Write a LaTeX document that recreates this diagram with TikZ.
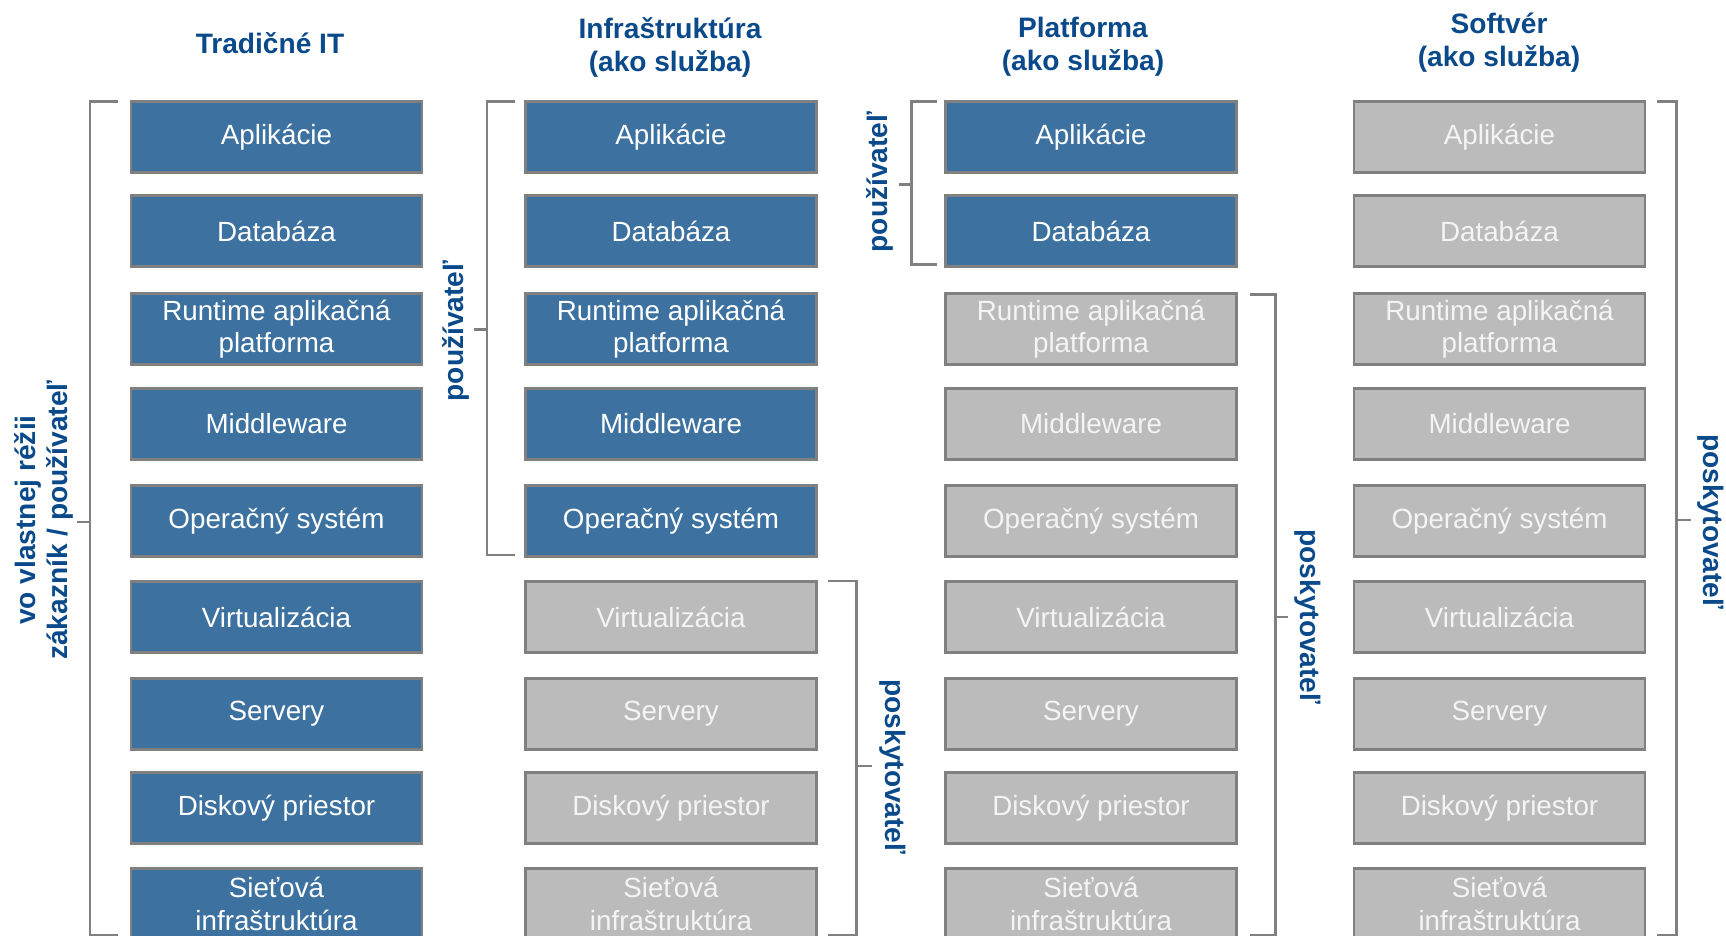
\documentclass[tikz,border=0pt]{standalone}
\usepackage{fontspec}
\setmainfont{Liberation Sans}

\definecolor{ownblue}{HTML}{3D72A0}
\definecolor{titleblue}{HTML}{0B4A8A}
\definecolor{edgegray}{HTML}{808080}
\definecolor{svcgray}{HTML}{BBBBBB}
\definecolor{svctext}{HTML}{F4F4F4}

\tikzset{
	own/.style={draw=edgegray, line width=0.7pt, fill=ownblue, text=white, minimum width=2.91cm, minimum height=0.71cm, inner sep=0pt, align=center, font=\fontsize{7.9}{9.2}\selectfont},
	svc/.style={own, fill=svcgray, text=svctext},
	head/.style={text=titleblue, align=center, font=\fontsize{8}{9.4}\selectfont\bfseries},
	who/.style={text=titleblue, align=center, font=\fontsize{8}{9.1}\selectfont\bfseries},
	brk/.style={draw=edgegray, line width=0.85pt}
}

\begin{document}
\begin{tikzpicture}
	\useasboundingbox (0,0) rectangle (17.26,-9.36);

	% column titles
	\node[head] (hTrad) at (2.70,-0.43) {Tradičné IT};
	\node[head] (hInfra) at (6.70,-0.47) {Infraštruktúra\\(ako služba)};
	\node[head] (hPlat) at (10.83,-0.47) {Platforma\\(ako služba)};
	\node[head] (hSoft) at (14.99,-0.43) {Softvér\\(ako služba)};

	% tradičné IT
	\node[own] (t1) at (2.765,-1.37) {Aplikácie};
	\node[own] (t2) at (2.765,-2.31) {Databáza};
	\node[own] (t3) at (2.765,-3.29) {Runtime aplikačná\\platforma};
	\node[own] (t4) at (2.765,-4.24) {Middleware};
	\node[own] (t5) at (2.765,-5.21) {Operačný systém};
	\node[own] (t6) at (2.765,-6.17) {Virtualizácia};
	\node[own] (t7) at (2.765,-7.14) {Servery};
	\node[own] (t8) at (2.765,-8.08) {Diskový priestor};
	\node[own] (t9) at (2.765,-9.04) {Sieťová\\infraštruktúra};

	% infraštruktúra ako služba
	\node[own] (i1) at (6.71,-1.37) {Aplikácie};
	\node[own] (i2) at (6.71,-2.31) {Databáza};
	\node[own] (i3) at (6.71,-3.29) {Runtime aplikačná\\platforma};
	\node[own] (i4) at (6.71,-4.24) {Middleware};
	\node[own] (i5) at (6.71,-5.21) {Operačný systém};
	\node[svc] (i6) at (6.71,-6.17) {Virtualizácia};
	\node[svc] (i7) at (6.71,-7.14) {Servery};
	\node[svc] (i8) at (6.71,-8.08) {Diskový priestor};
	\node[svc] (i9) at (6.71,-9.04) {Sieťová\\infraštruktúra};

	% platforma ako služba
	\node[own] (p1) at (10.91,-1.37) {Aplikácie};
	\node[own] (p2) at (10.91,-2.31) {Databáza};
	\node[svc] (p3) at (10.91,-3.29) {Runtime aplikačná\\platforma};
	\node[svc] (p4) at (10.91,-4.24) {Middleware};
	\node[svc] (p5) at (10.91,-5.21) {Operačný systém};
	\node[svc] (p6) at (10.91,-6.17) {Virtualizácia};
	\node[svc] (p7) at (10.91,-7.14) {Servery};
	\node[svc] (p8) at (10.91,-8.08) {Diskový priestor};
	\node[svc] (p9) at (10.91,-9.04) {Sieťová\\infraštruktúra};

	% softvér ako služba
	\node[svc] (s1) at (14.995,-1.37) {Aplikácie};
	\node[svc] (s2) at (14.995,-2.31) {Databáza};
	\node[svc] (s3) at (14.995,-3.29) {Runtime aplikačná\\platforma};
	\node[svc] (s4) at (14.995,-4.24) {Middleware};
	\node[svc] (s5) at (14.995,-5.21) {Operačný systém};
	\node[svc] (s6) at (14.995,-6.17) {Virtualizácia};
	\node[svc] (s7) at (14.995,-7.14) {Servery};
	\node[svc] (s8) at (14.995,-8.08) {Diskový priestor};
	\node[svc] (s9) at (14.995,-9.04) {Sieťová\\infraštruktúra};

	% brackets and who runs what
	\draw[brk] (1.18,-1.02) -- (0.90,-1.02) -- (0.90,-9.35) -- (1.18,-9.35);
	\draw[brk] (0.90,-5.22) -- (0.77,-5.22);
	\node[who, rotate=90] (wTrad) at (0.44,-5.20) {vo vlastnej réžii\\zákazník / používateľ};

	\draw[brk] (5.15,-1.02) -- (4.87,-1.02) -- (4.87,-5.55) -- (5.15,-5.55);
	\draw[brk] (4.87,-3.30) -- (4.74,-3.30);
	\node[who, rotate=90] (wInfraU) at (4.56,-3.31) {používateľ};

	\draw[brk] (8.28,-5.81) -- (8.56,-5.81) -- (8.56,-9.35) -- (8.28,-9.35);
	\draw[brk] (8.56,-7.66) -- (8.72,-7.66);
	\node[who, rotate=-90] (wInfraP) at (8.93,-7.67) {poskytovateľ};

	\draw[brk] (9.37,-1.02) -- (9.11,-1.02) -- (9.11,-2.65) -- (9.37,-2.65);
	\draw[brk] (9.11,-1.85) -- (8.99,-1.85);
	\node[who, rotate=90] (wPlatU) at (8.80,-1.82) {používateľ};

	\draw[brk] (12.50,-2.95) -- (12.75,-2.95) -- (12.75,-9.35) -- (12.50,-9.35);
	\draw[brk] (12.75,-6.17) -- (12.88,-6.17);
	\node[who, rotate=-90] (wPlatP) at (13.08,-6.17) {poskytovateľ};

	\draw[brk] (16.57,-1.02) -- (16.76,-1.02) -- (16.76,-9.35) -- (16.57,-9.35);
	\draw[brk] (16.76,-5.20) -- (16.91,-5.20);
	\node[who, rotate=-90] (wSoft) at (17.11,-5.22) {poskytovateľ};
\end{tikzpicture}
\end{document}
